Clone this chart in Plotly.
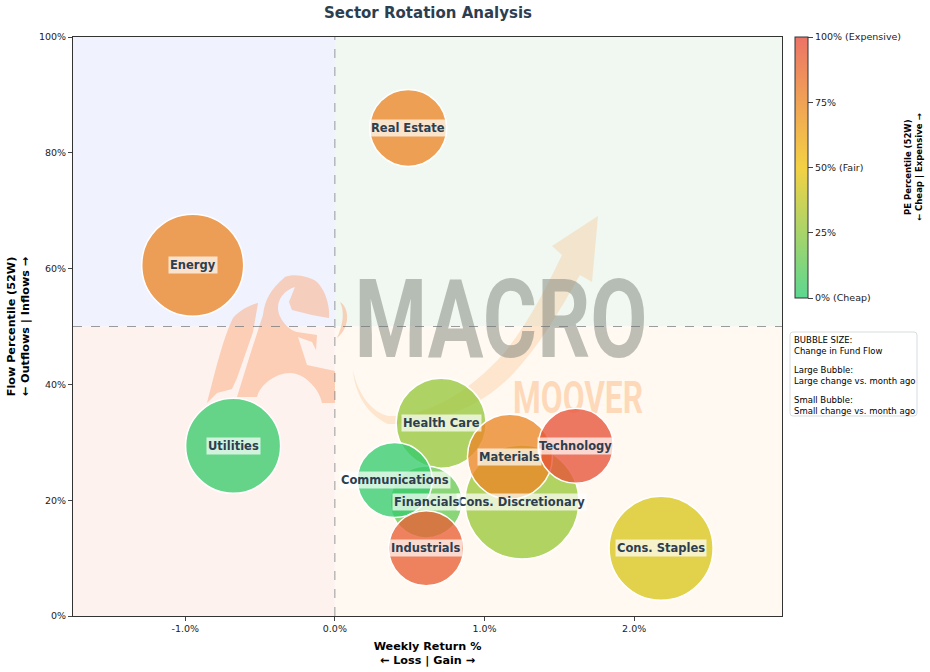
import plotly.graph_objects as go

W, H = 930, 672
LEFT, RIGHT, TOP, BOTTOM = 73, 782, 37, 616

sectors = ["Real Estate", "Energy", "Utilities", "Health Care", "Cons. Discretionary", "Materials",
           "Technology", "Financials", "Communications", "Industrials", "Cons. Staples"]
weekly_return = [0.49, -0.95, -0.68, 0.71, 1.25, 1.17, 1.61, 0.61, 0.40, 0.61, 2.18]
flow_pct = [84.3, 60.6, 29.4, 33.3, 19.7, 27.5, 29.4, 19.7, 23.5, 11.7, 11.7]
pe_pct = [76, 76, 3, 27, 28, 76, 97, 15, 2, 92, 44]
flow_change = [77, 102, 95, 90, 114, 85, 75, 72, 75, 75, 104]

x_ticks = [-1, 0, 1, 2]
x_tick_labels = ["-1.0%", "0.0%", "1.0%", "2.0%"]
y_ticks = [0, 20, 40, 60, 80, 100]
y_tick_labels = ["0%", "20%", "40%", "60%", "80%", "100%"]
cbar_ticks = [0, 25, 50, 75, 100]
cbar_labels = ["0% (Cheap)", "25%", "50% (Fair)", "75%", "100% (Expensive)"]
note_groups = ["BUBBLE SIZE:<br>Change in Fund Flow",
               "Large Bubble:<br>Large change vs. month ago",
               "Small Bubble:<br>Small change vs. month ago"]

X_RANGE = [-1.75, 2.988]
Y_RANGE = [0, 100]
FONT = "DejaVu Sans"
DARK = "#2c3e50"


def px(x):
    return (x - LEFT) / (RIGHT - LEFT)


def py(y):
    return (BOTTOM - y) / (BOTTOM - TOP)


def dx(x):
    return X_RANGE[0] + px(x) * (X_RANGE[1] - X_RANGE[0])


def dy(y):
    return Y_RANGE[0] + py(y) * (Y_RANGE[1] - Y_RANGE[0])


def logo_path(cmds):
    # logo outlines were traced in screen pixels, convert them to axis coords
    # (paper-referenced shapes would end up under the plot background)
    out = []
    for c in cmds:
        if isinstance(c, str):
            out.append(c)
        else:
            out.append(f"{dx(c[0]):.4f},{dy(c[1]):.3f}")
    return " ".join(out)


def quadrant(x0, x1, y0, y1, color):
    return dict(type="rect", xref="x", yref="y", x0=x0, x1=x1, y0=y0, y1=y1,
                fillcolor=color, line_width=0, layer="below")


def logo(cmds, color):
    return dict(type="path", xref="x", yref="y", path=logo_path(cmds),
                fillcolor=color, line_width=0, layer="below")


def logo_text(text, cx, cy, size, color):
    return dict(type="rect", xref="x", yref="y", x0=dx(cx - 200), x1=dx(cx + 200), y0=dy(cy + 60), y1=dy(cy - 60),
                line_width=0, fillcolor="rgba(0,0,0,0)", layer="below",
                label=dict(text=text, textposition="middle center",
                           font=dict(family="Roboto", size=size, color=color, weight="bold")))


def round_box(x0, y0, x1, y1, r=3):
    # plain rect has no corner radius, so the note box is a path
    sx0, sx1, sy0, sy1 = px(x0), px(x1), py(y0), py(y1)
    rx, ry = r / (RIGHT - LEFT), r / (BOTTOM - TOP)
    d = (f"M {sx0 + rx},{sy0} L {sx1 - rx},{sy0} Q {sx1},{sy0} {sx1},{sy0 - ry} L {sx1},{sy1 + ry} "
         f"Q {sx1},{sy1} {sx1 - rx},{sy1} L {sx0 + rx},{sy1} Q {sx0},{sy1} {sx0},{sy1 + ry} "
         f"L {sx0},{sy0 - ry} Q {sx0},{sy0} {sx0 + rx},{sy0} Z")
    return dict(type="path", xref="paper", yref="paper", path=d, fillcolor="white",
                line=dict(color="#d5dde0", width=1), layer="above")


BULL = "rgba(250,170,125,0.5)"
ARROW = "rgba(250,195,140,0.36)"

shapes = [
    quadrant(X_RANGE[0], 0, 50, 100, "#f0f2fe"),
    quadrant(0, X_RANGE[1], 50, 100, "#f0f8f1"),
    quadrant(X_RANGE[0], 0, 0, 50, "#fef2ef"),
    quadrant(0, X_RANGE[1], 0, 50, "#fff9f2"),
    logo(["M", (353, 370), "C", (358, 395), (372, 412), (388, 416), "C", (425, 418), (470, 392), (505, 352),
          "C", (530, 320), (545, 290), (562, 255), "L", (552, 246), "L", (598, 216), "L", (592, 282), "L", (580, 275),
          "C", (560, 310), (540, 345), (512, 375), "C", (480, 408), (435, 425), (388, 424),
          "C", (368, 415), (355, 395), (353, 370), "Z"], ARROW),
    logo_text("MACRO", 501, 312, 109, "rgba(120,125,115,0.48)"),
    logo_text("MOOVER", 578, 395, 45, "rgba(252,185,130,0.5)"),
    # bull
    logo(["M", (207, 403), "C", (212, 385), (222, 340), (233, 318), "C", (240, 310), (250, 305), (258, 303),
          "L", (253, 332), "L", (237, 378), "L", (232, 389), "L", (217, 393), "Z"], BULL),
    logo(["M", (237, 397), "L", (250, 355), "L", (263, 315), "C", (265, 300), (270, 290), (285, 277),
          "C", (295, 273), (310, 277), (317, 282), "C", (325, 290), (330, 305), (329, 318),
          "L", (312, 315), "L", (292, 310), "L", (289, 302), "L", (295, 287),
          "C", (285, 290), (278, 298), (278, 308), "C", (278, 318), (288, 330), (297, 332),
          "L", (317, 335), "L", (316, 350), "L", (312, 342), "L", (298, 337), "L", (307, 365), "L", (335, 371),
          "L", (335, 403), "L", (322, 403), "C", (320, 390), (305, 373), (290, 373),
          "C", (275, 373), (260, 385), (257, 397), "Z"], BULL),
    logo(["M", (340, 302), "C", (350, 308), (350, 328), (337, 338), "C", (343, 325), (345, 312), (340, 302), "Z"], BULL),
    round_box(790, 332, 917, 416),
]

for pos in [dict(x0=0, x1=0, y0=0, y1=100), dict(x0=X_RANGE[0], x1=X_RANGE[1], y0=50, y1=50)]:
    shapes.append(dict(type="line", xref="x", yref="y", line=dict(color="rgba(110,115,120,0.7)", width=1, dash="dash"),
                       layer="below", **pos))

annotations = []
for name, xv, yv in zip(sectors, weekly_return, flow_pct):
    annotations.append(dict(x=xv, y=yv, text=name, showarrow=False, bgcolor="rgba(255,255,255,0.7)", borderpad=1,
                            font=dict(family=FONT, size=11.5, color=DARK, weight="bold")))

annotations.append(dict(xref="paper", yref="paper", x=px(913), y=py(167), xanchor="center", yanchor="middle",
                        textangle=-90, showarrow=False, text="<b>PE Percentile (52W)<br>← Cheap | Expensive →</b>",
                        font=dict(family=FONT, size=8.5, color="black")))
for i, group in enumerate(note_groups):
    annotations.append(dict(xref="paper", yref="paper", x=px(792), y=py(333 + 30 * i), xanchor="left", yanchor="top",
                            align="left", showarrow=False, text=group,
                            font=dict(family=FONT, size=8.5, color="black")))

fig = go.Figure(go.Scatter(
    x=weekly_return, y=flow_pct, mode="markers", hoverinfo="text", text=sectors,
    marker=dict(
        size=flow_change, sizemode="diameter", sizeref=1, opacity=1,
        color=pe_pct, cmin=0, cmax=100,
        colorscale=[[0, "rgba(46,204,113,0.78)"], [0.5, "rgba(241,196,15,0.78)"], [1, "rgba(231,76,60,0.78)"]],
        line=dict(color="white", width=1.5),
        colorbar=dict(
            tickvals=cbar_ticks, ticktext=cbar_labels, ticks="outside", ticklen=5, tickwidth=1,
            tickfont=dict(family=FONT, size=9.5, color="#222"),
            thickness=13, thicknessmode="pixels", len=261 / (BOTTOM - TOP), lenmode="fraction",
            x=px(795), xanchor="left", y=1, yanchor="top", ypad=0, xpad=0,
            outlinecolor="#333", outlinewidth=1,
        ),
    ),
))

fig.update_layout(
    width=W, height=H, autosize=False,
    margin=dict(l=LEFT, r=W - RIGHT, t=TOP, b=H - BOTTOM, autoexpand=False),
    paper_bgcolor="white", plot_bgcolor="white", showlegend=False,
    font=dict(family=FONT),
    title=dict(text="<b>Sector Rotation Analysis</b>", x=px(428), xref="paper", xanchor="center",
               y=1 - 13 / H, yanchor="middle", font=dict(family=FONT, size=15, color=DARK)),
    shapes=shapes, annotations=annotations,
)
fig.update_xaxes(range=X_RANGE, tickvals=x_ticks, ticktext=x_tick_labels, ticks="outside", ticklen=4,
                 showgrid=False, zeroline=False, showline=True, mirror=True, linecolor="#333", linewidth=1,
                 tickfont=dict(size=9.5, color="#222"),
                 title=dict(text="<b>Weekly Return %<br>← Loss | Gain →</b>", standoff=8,
                            font=dict(size=11.2, color="black")))
fig.update_yaxes(range=Y_RANGE, tickvals=y_ticks, ticktext=y_tick_labels, ticks="outside", ticklen=4,
                 showgrid=False, zeroline=False, showline=True, mirror=True, linecolor="#333", linewidth=1,
                 tickfont=dict(size=9.5, color="#222"),
                 title=dict(text="<b>Flow Percentile (52W)<br>← Outflows | Inflows →</b>", standoff=6,
                            font=dict(size=11.2, color="black")))

# logo lettering is condensed in the reference, squeeze the text to its width
squeeze = """
document.body.style.margin = '0';
var widths = {MACRO: 293, MOOVER: 130};
document.querySelectorAll('text').forEach(function (t) {
    var w = widths[t.textContent];
    if (w) {
        t.style.transformBox = 'fill-box';
        t.style.transformOrigin = 'center';
        t.style.transform = 'scaleX(' + (w / t.getBBox().width) + ')';
    }
});
"""
fig.write_html("out.html", config={"displayModeBar": False}, post_script=squeeze)
